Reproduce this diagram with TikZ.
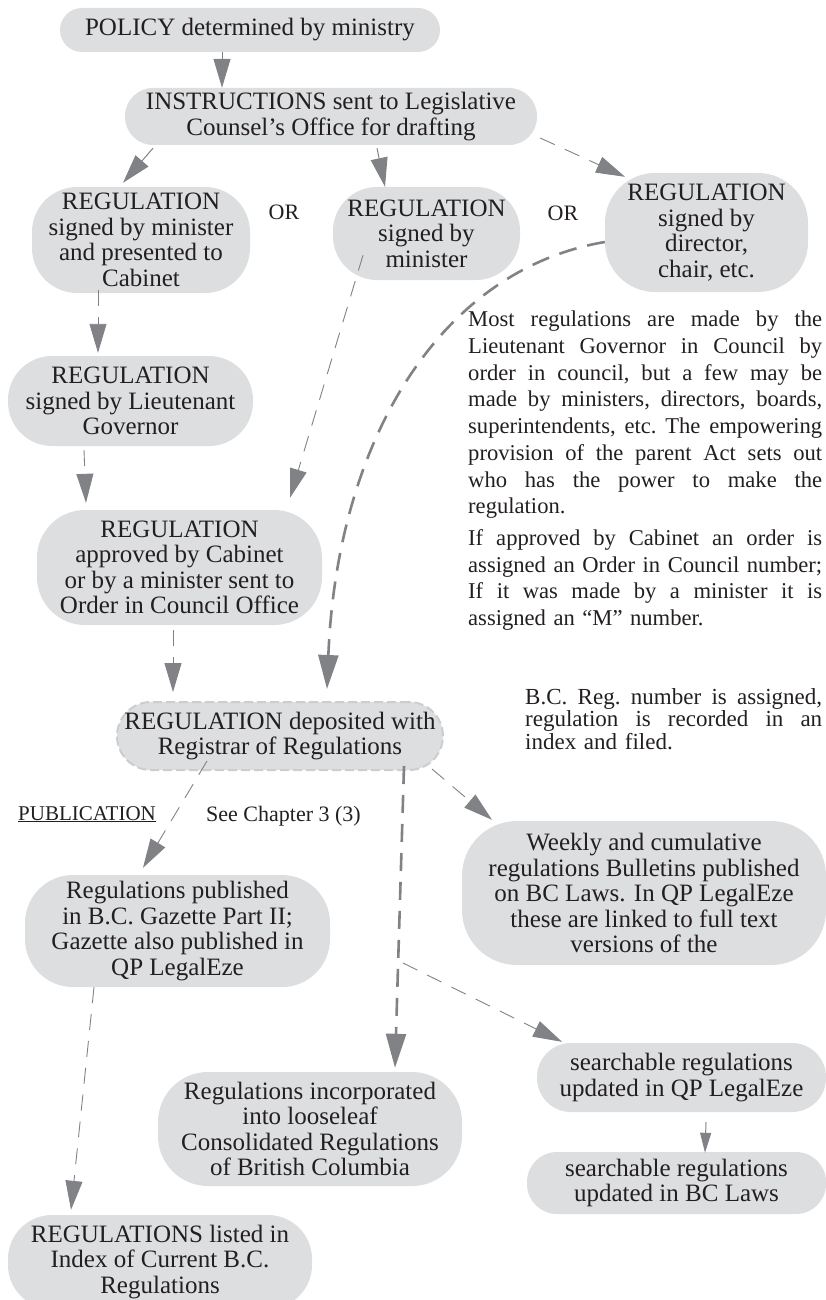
\documentclass[tikz,border=0pt]{standalone}
\usepackage{fontspec}
\setmainfont{Liberation Serif}
\usetikzlibrary{arrows.meta,calc}
\definecolor{boxfill}{RGB}{221,222,224}
\definecolor{boxedge}{RGB}{204,205,208}
\definecolor{arrgray}{RGB}{128,130,134}
\definecolor{txt}{RGB}{35,31,32}
\newcommand{\jline}[2]{\leavevmode\hbox to #1{\spaceskip=0.25em plus 1fil minus 0.1em\relax #2}}
\begin{document}
\begin{tikzpicture}[x=1pt,y=-1pt,
  box/.style={fill=boxfill, draw=none, align=center, inner sep=0pt, text=txt,
              font=\fontsize{25}{25.5}\selectfont},
  para/.style={inner sep=0pt, text=txt, align=left},
  plain/.style={inner sep=0pt, text=txt},
  conn/.style={draw=arrgray, line width=1pt, -{Triangle[length=29pt,width=17pt]}},
  smallconn/.style={draw=arrgray, line width=1pt, -{Triangle[length=20pt,width=11pt]}},
  thindash/.style={line width=0.9pt, dash pattern=on 16pt off 11pt},
  thickdash/.style={line width=2.6pt, dash pattern=on 18pt off 11pt,
                    -{Triangle[length=34pt,width=20pt]}},
]
\useasboundingbox (0,0) rectangle (826,1300);

% nodes
\node[box, minimum width=380pt, minimum height=44pt, rounded corners=22pt] (policy) at (250,30)
  {POLICY determined by ministry};
\node[box, minimum width=412pt, minimum height=57pt, rounded corners=28pt] (instr) at (331,116.5)
  {INSTRUCTIONS sent to Legislative\\Counsel’s Office for drafting};
\node[box, minimum width=218pt, minimum height=106pt, rounded corners=45pt] (cab) at (141,240)
  {REGULATION\\signed by minister\\and presented to\\Cabinet};
\node[plain, font=\fontsize{22}{24}\selectfont] (or1) at (284,212) {OR};
\node[box, minimum width=187pt, minimum height=93pt, rounded corners=44pt] (sgn) at (426.5,233.5)
  {REGULATION\\signed by\\minister};
\node[plain, font=\fontsize{22}{24}\selectfont] (or2) at (563,213) {OR};
\node[box, minimum width=203pt, minimum height=119pt, rounded corners=50pt] (dir) at (706.5,232.5)
  {REGULATION\\signed by\\director,\\chair, etc.};

\node[para, text width=354pt, anchor=north west, font=\fontsize{22.6}{26.7}\selectfont\frenchspacing] (note1) at (468,311)
  {\jline{354pt}{Most regulations are made by the}\\
   \jline{354pt}{Lieutenant Governor in Council by}\\
   \jline{354pt}{order in council, but a few may be}\\
   \jline{354pt}{made by ministers, directors, boards,}\\
   \jline{354pt}{superintendents, etc. The empowering}\\
   \jline{354pt}{provision of the parent Act sets out}\\
   \jline{354pt}{who has the power to make the}\\
   regulation.\\[5pt]
   \jline{354pt}{If approved by Cabinet an order is}\\
   \jline{354pt}{assigned an Order in Council number;}\\
   \jline{354pt}{If it was made by a minister it is}\\
   assigned an “M” number.};

\node[box, minimum width=245pt, minimum height=90pt, rounded corners=44pt] (lg) at (130.5,401)
  {REGULATION\\signed by Lieutenant\\Governor};
\node[box, minimum width=285pt, minimum height=115pt, rounded corners=48pt] (appr) at (179.5,567.5)
  {REGULATION\\approved by Cabinet\\or by a minister sent to\\Order in Council Office};
\node[box, draw=boxedge, line width=2pt, dash pattern=on 9pt off 4pt,
      minimum width=326pt, minimum height=68pt, rounded corners=34pt] (dep) at (280,736)
  {REGULATION deposited with\\Registrar of Regulations};

\node[para, text width=297pt, anchor=north west, font=\fontsize{23}{22.5}\selectfont\frenchspacing] (note2) at (525,688)
  {\jline{297pt}{B.C. Reg. number is assigned,}\\
   \jline{297pt}{regulation is recorded in an}\\
   index and filed.};

\node[plain, anchor=base west, font=\fontsize{21}{24}\selectfont] (publ) at (18,820)
  {\underline{PUBLICATION}};
\node[plain, anchor=base west, font=\fontsize{22}{24}\selectfont] (seech) at (206,821)
  {See Chapter 3 (3)};

\node[box, minimum width=305pt, minimum height=112pt, rounded corners=48pt] (gaz) at (177.5,931)
  {Regulations published\\in B.C. Gazette Part II;\\Gazette also published in\\QP LegalEze};
\node[box, minimum width=364pt, minimum height=144pt, rounded corners=55pt] (week) at (644,893)
  {Weekly and cumulative\\regulations Bulletins published\\on BC Laws. In QP LegalEze\\these are linked to full text\\versions of the};
\node[box, minimum width=304pt, minimum height=114pt, rounded corners=50pt] (cons) at (310,1129)
  {Regulations incorporated\\into looseleaf\\Consolidated Regulations\\of British Columbia};
\node[box, minimum width=289pt, minimum height=69pt, rounded corners=34pt] (sqp) at (681.5,1077.5)
  {searchable regulations\\updated in QP LegalEze};
\node[box, minimum width=299pt, minimum height=62pt, rounded corners=30pt] (sbc) at (676.5,1183)
  {searchable regulations\\updated in BC Laws};
\node[box, minimum width=304pt, minimum height=94pt, rounded corners=44pt] (list) at (160,1262)
  {REGULATIONS listed in\\Index of Current B.C.\\Regulations};

\coordinate (br) at (403,963);

% connectors
\draw[conn] ($(policy.south)+(-28,0)$) -- ($(instr.north)+(-109,0)$);
\draw[conn] ($(instr.south)+(-178,3)$) -- ($(cab.north)+(-18,-4)$);
\draw[conn] ($(instr.south)+(46,3)$) -- ($(sgn.north)+(-41.5,0)$);
\draw[conn, thindash] ($(instr.east)+(3,21.5)$) -- ($(dir.north)+(-81.5,4)$);
\draw[conn, thindash] ($(cab.south)+(-43,-3)$) -- ($(lg.north)+(-32.5,-3)$);
\draw[conn, thindash] ($(lg.south)+(-46.5,4)$) -- ($(appr.north)+(-93.5,-7)$);
\draw[conn, thindash] ($(sgn.south)+(-63.5,-25)$) -- ($(appr.north)+(110.5,-12)$);
\draw[conn, thickdash] ($(dir.west)+(0,9.5)$) .. controls (440,270) and (337,440) .. ($(dep.north)+(47,-12)$);
\draw[conn, thindash] ($(appr.south)+(-6.5,5)$) -- ($(dep.north)+(-107,-9)$);
\draw[conn, thindash] ($(dep.south)+(-73,-10)$) -- ($(gaz.north)+(-34.5,-7)$);
\draw[conn, thindash] ($(dep.south)+(152,-2)$) -- ($(week.north)+(-152,-1)$);
\draw[conn, thickdash] ($(dep.south)+(124,-5)$) -- ($(cons.north)+(85,-4)$);
\draw[conn, thindash] (br) -- ($(sqp.north)+(-119.5,-1)$);
\draw[conn, thindash] ($(gaz.south)+(-83.5,0)$) -- ($(list.north)+(-89,-5)$);
\draw[smallconn] ($(sqp.south)+(24.5,10)$) -- ($(sbc.north)+(28.5,1)$);
\end{tikzpicture}
\end{document}
